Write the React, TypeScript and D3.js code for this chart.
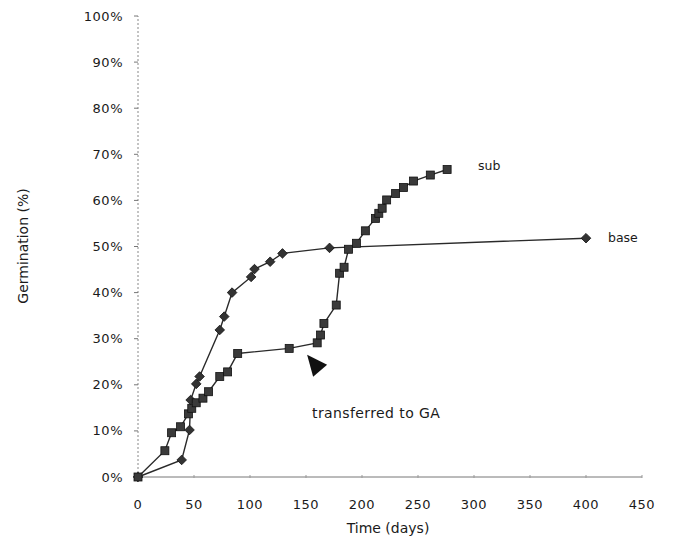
import React from 'react';
import * as d3 from 'd3';

// base (diamonds) and sub (squares) germination curves
const baseDays = [0, 39, 46, 47, 52, 55, 73, 77, 84, 101, 104, 118, 129, 171, 400];
const basePct = [0, 3.7, 10.2, 16.7, 20.2, 21.8, 31.9, 34.8, 40, 43.4, 45.1, 46.7, 48.5, 49.7, 51.8];

const subDays = [0, 24, 30, 38, 45, 48, 52, 58, 63, 73, 80, 89, 135, 160, 163, 166, 177, 180, 184, 188, 195, 203, 212, 215, 218, 222, 230, 237, 246, 261, 276];
const subPct = [0, 5.7, 9.6, 10.9, 13.7, 14.9, 16.1, 17.1, 18.5, 21.8, 22.8, 26.8, 27.9, 29.1, 30.8, 33.3, 37.3, 44.2, 45.5, 49.4, 50.7, 53.4, 56.1, 57.2, 58.3, 60.1, 61.5, 62.8, 64.2, 65.5, 66.7];

const xTicks = [0, 50, 100, 150, 200, 250, 300, 350, 400, 450];
const yTicks = [0, 10, 20, 30, 40, 50, 60, 70, 80, 90, 100];

// annotation arrow tip (day, %)
const arrowTip = [151, 26.5];

const W = 676;
const H = 542;
const font = "'DejaVu Sans', sans-serif";

const App = () => {
    const x = d3.scaleLinear().domain([0, 450]).range([138, 642]);
    const y = d3.scaleLinear().domain([0, 100]).range([477, 16]);

    const base = baseDays.map((d, i) => [d, basePct[i]]);
    const sub = subDays.map((d, i) => [d, subPct[i]]);

    const line = d3.line<number[]>()
        .x(d => x(d[0]))
        .y(d => y(d[1]));

    const ink = '#2a2a2a';
    const tx = x(arrowTip[0]);
    const ty = y(arrowTip[1]);

    return (
        <svg width={W} height={H} style={{ position: 'absolute', left: 0, top: 0, background: '#fff' }}>
            {/* y axis (dotted) */}
            <line x1={x(0)} x2={x(0)} y1={y(0)} y2={y(100)} stroke="#888" strokeWidth={1} strokeDasharray="2,2" />
            {yTicks.map(t => (
                <g key={t}>
                    <line x1={x(0) - 4} x2={x(0)} y1={y(t)} y2={y(t)} stroke="#777" strokeWidth={1} />
                    <text x={123} y={y(t)} dy="0.35em" textAnchor="end" fontFamily={font} fontSize={13} fill="#1a1a1a" letterSpacing={0.5}>
                        {t + '%'}
                    </text>
                </g>
            ))}

            {/* x axis */}
            <line x1={x(0)} x2={x(450)} y1={y(0)} y2={y(0)} stroke="#777" strokeWidth={1} />
            {xTicks.map(t => (
                <g key={t}>
                    <line x1={x(t)} x2={x(t)} y1={y(0) - 2} y2={y(0) + 1} stroke="#999" strokeWidth={1} />
                    <text x={x(t)} y={504} dy="0.35em" textAnchor="middle" fontFamily={font} fontSize={13} fill="#1a1a1a" letterSpacing={0.5}>
                        {t}
                    </text>
                </g>
            ))}

            <text x={388} y={528} dy="0.35em" textAnchor="middle" fontFamily={font} fontSize={14} fill="#1a1a1a">Time (days)</text>
            <text transform={`translate(23,246) rotate(-90)`} textAnchor="middle" dy="0.35em" fontFamily={font} fontSize={14} fill="#1a1a1a">Germination (%)</text>

            {/* lines */}
            <path d={line(base) || ''} fill="none" stroke={ink} strokeWidth={1.4} />
            <path d={line(sub) || ''} fill="none" stroke={ink} strokeWidth={1.4} />

            {/* markers */}
            {base.map((d, i) => (
                <path key={'b' + i} d="M0,-4.8L4.8,0L0,4.8L-4.8,0Z" transform={`translate(${x(d[0])},${y(d[1])})`} fill="#333" stroke="#111" strokeWidth={0.8} />
            ))}
            {sub.map((d, i) => (
                <rect key={'s' + i} x={x(d[0]) - 4} y={y(d[1]) - 4} width={8} height={8} fill="#3a3a3a" stroke="#111" strokeWidth={0.8} />
            ))}

            {/* series labels */}
            <text x={478} y={166} dy="0.35em" fontFamily={font} fontSize={12.5} fill="#1a1a1a">sub</text>
            <text x={608} y={238} dy="0.35em" fontFamily={font} fontSize={12.5} fill="#1a1a1a">base</text>

            {/* annotation */}
            <path d={`M${tx},${ty}L${tx + 20},${ty + 10}L${tx + 6},${ty + 22}Z`} fill="#111" />
            <text x={312} y={413} dy="0.35em" fontFamily={font} fontSize={14} fill="#1a1a1a" letterSpacing={0.4}>transferred to GA</text>
        </svg>
    );
};

export default App;
